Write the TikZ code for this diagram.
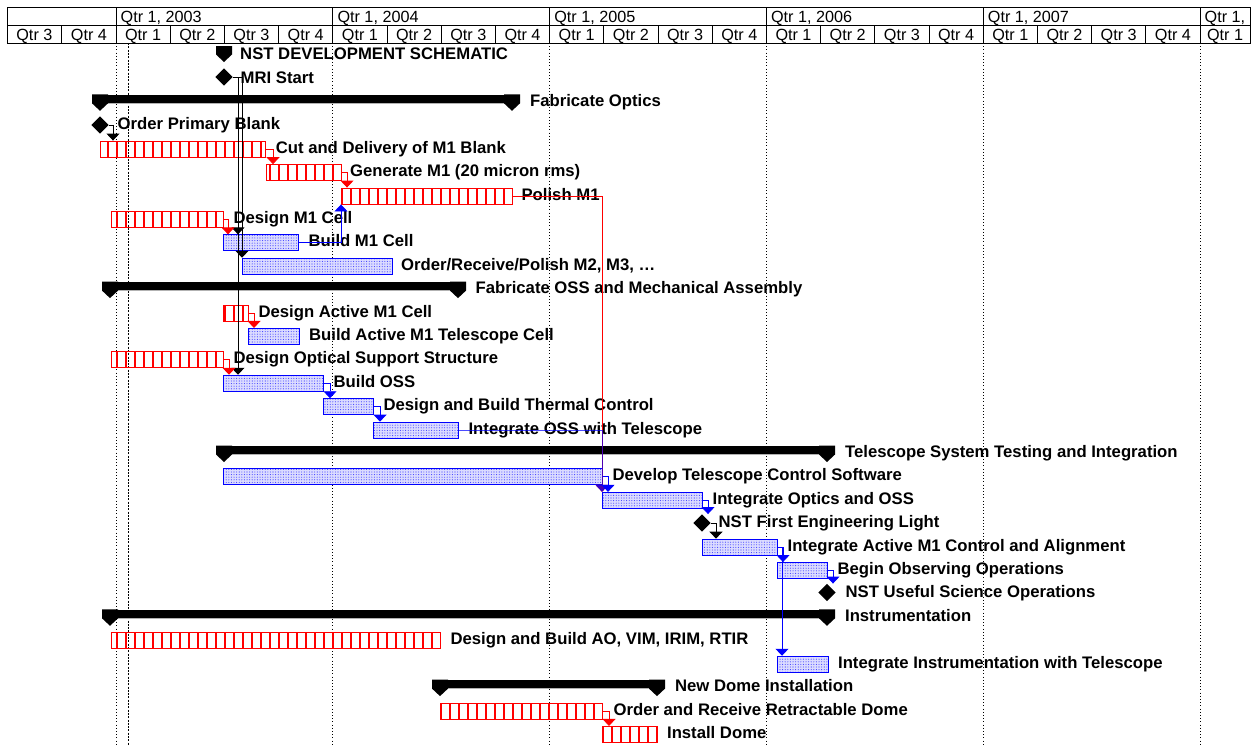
\documentclass[tikz,border=0pt]{standalone}
\usepackage{fontspec}
\setmainfont{Liberation Sans}
\usetikzlibrary{patterns.meta,shapes.geometric,arrows.meta,calc}
\newcommand\tbar[5]{\node[#2, minimum width={(#4-#3)*1pt}] (#1) at (#3,#5) {};}
\newcommand\pentcap[2]{\fill (#1-8,#2-8) -- (#1+8,#2-8) -- (#1+8,#2+1) -- (#1,#2+8.5) -- (#1-8,#2+1) -- cycle;}
\newcommand\sumry[4]{%
  \node[sumbar, minimum width={(#3-#2)*1pt}] (#1) at (#2,#4-8) {};
  \draw[gray!60, line width=0.6pt] (#2,#4+1) -- (#3,#4+1);
  \pentcap{#2}{#4}\pentcap{#3}{#4}}
\newcommand\lab[5]{\node[lbl] (#1) at ($(#2)+(#3,#4)$) {#5};}
\begin{document}
\begin{tikzpicture}[x=1pt,y=-1pt,
  hdr/.style={font=\fontsize{16.2}{18}\selectfont, inner sep=0},
  lbl/.style={font=\bfseries\fontsize{16.7}{18}\selectfont, inner sep=0, anchor=base west},
  redbar/.style={draw=red, line width=0.9pt, pattern={Lines[angle=90,distance=9pt,line width=1.1pt]}, pattern color=red, minimum height=16pt, inner sep=0, anchor=west},
  bluebar/.style={draw=blue, line width=0.9pt, preaction={fill=blue!14}, pattern={Dots[distance=2.6pt,radius=0.55pt]}, pattern color=blue!75, minimum height=16pt, inner sep=0, anchor=west},
  sumbar/.style={fill=black, minimum height=8.5pt, inner sep=0, anchor=north west},
  ms/.style={diamond, fill=black, minimum width=17.5pt, minimum height=17.5pt, inner sep=0},
  grida/.style={line width=0.9pt, dash pattern=on 1pt off 2.2pt},
  gridb/.style={line width=0.9pt, dash pattern=on 2pt off 1.3pt},
  dep/.style={line width=0.9pt, -{Triangle[width=13pt,length=7pt]}},
  redc/.style={dep, red},
  bluec/.style={dep, blue},
  blkc/.style={dep, black},
]
\useasboundingbox (0,0) rectangle (1253,745);
\fill[white] (0,0) rectangle (1253,745);
% ---------- header ----------
\draw[line width=0.9pt] (7,7) rectangle (1250,43);
\draw[line width=0.9pt] (7,25) -- (1250,25);
\foreach \gx in {116,332.8,549.6,766.4,983.2,1200} \draw[line width=0.9pt] (\gx,7) -- (\gx,25);
\foreach \k in {0,...,21} \draw[line width=0.9pt] ({61.8+54.2*\k},25) -- ({61.8+54.2*\k},43);
\foreach \yr/\gx in {2003/116,2004/332.8,2005/549.6,2006/766.4,2007/983.2}
  \node[hdr, anchor=base west] (y\yr) at (\gx+4.5,22) {Qtr 1, \yr};
\node[hdr, anchor=base west] (y2008) at (1204.5,22) {Qtr 1,};
\node[hdr, anchor=base] (qa) at (34.4,40) {Qtr 3};
\node[hdr, anchor=base] (qb) at (88.9,40) {Qtr 4};
\foreach \k in {0,...,19} {
  \pgfmathtruncatemacro\qn{mod(\k,4)+1}
  \node[hdr, anchor=base] (q\k) at ({116+54.2*\k+27.1},40) {Qtr \qn};
}
\node[hdr, anchor=base] (qz) at (1225,40) {Qtr 1};
% ---------- grid ----------
\foreach \gx in {116,332.8,549.6,766.4,983.2,1200} \draw[grida] (\gx,43) -- (\gx,745);
\draw[gridb] (128.5,43) -- (128.5,745);
% ---------- summaries ----------
\fill (216,46) -- (232,46) -- (232,54.5) -- (224,62) -- (216,54.5) -- cycle;
\coordinate (nst) at (232,54);
\sumry{fopt}{100}{512}{102.3}
\sumry{foss}{110}{458}{289.6}
\sumry{tsys}{224}{827}{453.5}
\sumry{inst}{110}{827}{617.3}
\sumry{ndome}{440}{657}{687.6}
% ---------- milestones ----------
\node[ms] (mri) at (224,77) {};
\node[ms] (opb) at (100,125) {};
\node[ms] (nfe) at (702,523) {};
\node[ms] (nuse) at (827,592.5) {};
% ---------- task bars ----------
\tbar{cut}{redbar}{100}{265}{149.1}
\tbar{gen}{redbar}{266}{341}{172.6}
\tbar{pol}{redbar}{341}{512}{196.0}
\tbar{dm1}{redbar}{111}{223}{219.4}
\tbar{bm1}{bluebar}{223}{298}{242.8}
\tbar{ord}{bluebar}{242}{392}{266.2}
\tbar{dact}{redbar}{223}{248}{313.0}
\tbar{bact}{bluebar}{248}{299}{336.4}
\tbar{doss}{redbar}{111}{223}{359.8}
\tbar{boss}{bluebar}{223}{323}{383.2}
\tbar{therm}{bluebar}{323}{373}{406.7}
\tbar{ioss}{bluebar}{373}{458}{430.1}
\tbar{dev}{bluebar}{223}{602}{476.9}
\tbar{iopt}{bluebar}{602}{702}{500.3}
\tbar{iact}{bluebar}{702}{777}{547.1}
\tbar{bobs}{bluebar}{777}{827}{570.5}
\tbar{dao}{redbar}{111}{440}{640.8}
\tbar{iinst}{bluebar}{777}{828}{664.2}
\tbar{odome}{redbar}{440}{602}{711.0}
\tbar{idome}{redbar}{602}{657}{734.4}
% ---------- labels ----------
\lab{l0}{nst}{8}{5.5}{NST DEVELOPMENT SCHEMATIC}
\lab{l1}{mri.east}{7.5}{6}{MRI Start}
\lab{l2}{fopt.east}{17.5}{7.75}{Fabricate Optics}
\lab{l3}{opb.east}{8.5}{4.7}{Order Primary Blank}
\lab{l4}{cut.east}{9.5}{4}{Cut and Delivery of M1 Blank}
\lab{l5}{gen.east}{8}{4}{Generate M1 (20 micron rms)}
\lab{l6}{pol.east}{8.5}{4}{Polish M1}
\lab{l7}{dm1.east}{9.5}{4}{Design M1 Cell}
\lab{l8}{bm1.east}{9.5}{4}{Build M1 Cell}
\lab{l9}{ord.east}{8}{4}{Order/Receive/Polish M2, M3, …}
\lab{l10}{foss.east}{17}{7.75}{Fabricate OSS and Mechanical Assembly}
\lab{l11}{dact.east}{9.5}{4}{Design Active M1 Cell}
\lab{l12}{bact.east}{9}{4}{Build Active M1 Telescope Cell}
\lab{l13}{doss.east}{9.5}{4}{Design Optical Support Structure}
\lab{l14}{boss.east}{9.5}{4}{Build OSS}
\lab{l15}{therm.east}{9.5}{4}{Design and Build Thermal Control}
\lab{l16}{ioss.east}{9.5}{4}{Integrate OSS with Telescope}
\lab{l17}{tsys.east}{17.5}{7.75}{Telescope System Testing and Integration}
\lab{l18}{dev.east}{9.5}{4}{Develop Telescope Control Software}
\lab{l19}{iopt.east}{9.5}{4}{Integrate Optics and OSS}
\lab{l20}{nfe.east}{7.5}{4.7}{NST First Engineering Light}
\lab{l21}{iact.east}{9.5}{4}{Integrate Active M1 Control and Alignment}
\lab{l22}{bobs.east}{9.5}{4}{Begin Observing Operations}
\lab{l23}{nuse.east}{9.5}{5.4}{NST Useful Science Operations}
\lab{l24}{inst.east}{17.5}{7.75}{Instrumentation}
\lab{l25}{dao.east}{9.5}{4}{Design and Build AO, VIM, IRIM, RTIR}
\lab{l26}{iinst.east}{9}{4}{Integrate Instrumentation with Telescope}
\lab{l27}{ndome.east}{17.5}{7.75}{New Dome Installation}
\lab{l28}{odome.east}{10.5}{4}{Order and Receive Retractable Dome}
\lab{l29}{idome.east}{9}{4}{Install Dome}
% ---------- dependencies ----------
\draw[blkc] (opb.east) -| ([xshift=13pt]cut.north west);
\draw[blkc] (mri.east) -| ([xshift=15pt]bm1.north west);
\draw[blkc] (mri.east) -| (ord.north west);
\draw[blkc] (mri.east) -| ([xshift=15pt]boss.north west);
\draw[redc] (cut.east) -| ([xshift=7pt]gen.north west);
\draw[redc] (gen.east) -| ([xshift=6pt]pol.north west);
\draw[redc] (dm1.east) -| ([xshift=5pt]bm1.north west);
\draw[bluec] (bm1.east) -| (pol.south west);
\draw[redc] (dact.east) -| ([xshift=6pt]bact.north west);
\draw[redc] (doss.east) -| ([xshift=6pt]boss.north west);
\draw[bluec] (boss.east) -| ([xshift=7pt]therm.north west);
\draw[bluec] (therm.east) -| ([xshift=7pt]ioss.north west);
\draw[redc] (pol.east) -| (iopt.north west);
\draw[bluec, opacity=0.7] (ioss.east) -| (iopt.north west);
\draw[bluec] (dev.east) -| ([xshift=6pt]iopt.north west);
\draw[bluec] (iopt.east) -| ([xshift=6pt]nfe.north);
\draw[blkc] (nfe.east) -| ([xshift=14pt]iact.north west);
\draw[bluec] (iact.east) -| ([xshift=6pt]bobs.north west);
\draw[bluec] (iact.east) -| ([xshift=5pt]iinst.north west);
\draw[bluec] (bobs.east) -| ([xshift=6pt]nuse.north);
\draw[redc] (odome.east) -| ([xshift=7pt]idome.north west);
\end{tikzpicture}
\end{document}
